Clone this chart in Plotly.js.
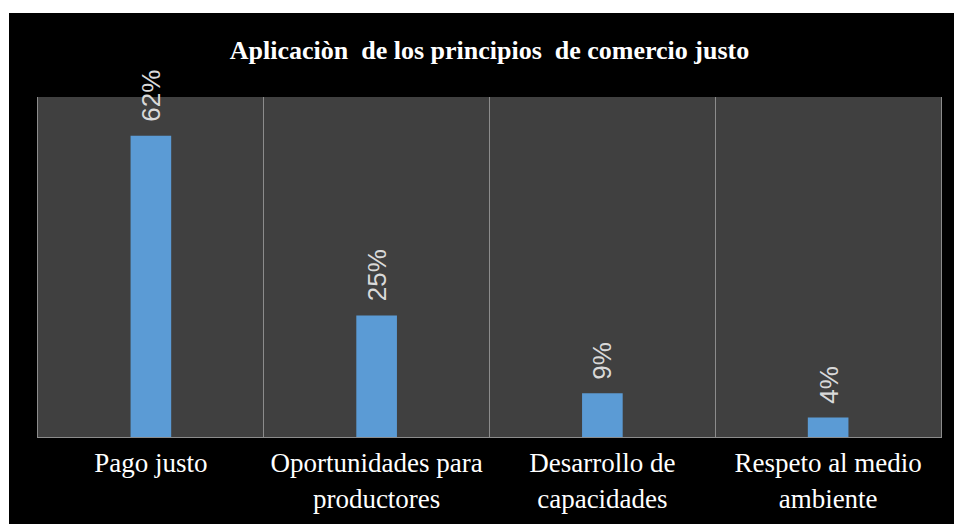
<!DOCTYPE html>
<html>
<head>
<meta charset="utf-8">
<script src="https://cdn.plot.ly/plotly-3.0.1.min.js"></script>
<style>
  html, body { margin: 0; padding: 0; background: #ffffff; }
  #chart { position: absolute; left: 9px; top: 13px; width: 945px; height: 511px; }
</style>
</head>
<body>
<div id="chart"></div>
<script>
const categories = ["Pago justo", "Oportunidades para<br>productores", "Desarrollo de<br>capacidades", "Respeto al medio<br>ambiente"];
const values = [0.62, 0.25, 0.09, 0.04];
const labels = ["62%", "25%", "9%", "4%"];
const titleText = "Aplicaciòn\u00a0 de los principios\u00a0 de comercio justo";

const trace = {
  type: "bar",
  x: categories,
  y: values,
  width: 0.18,
  marker: { color: "#5b9bd5", line: { width: 0 } },
  hoverinfo: "skip"
};

const annotations = categories.map((c, i) => ({
  x: c, y: values[i], xref: "x", yref: "y",
  text: labels[i], showarrow: false, textangle: -90,
  xanchor: "center", yanchor: "bottom", yshift: 12,
  font: { family: "Liberation Sans, Arial, sans-serif", size: 26, color: "#d9d9d9" }
}));

const layout = {
  width: 945, height: 511,
  paper_bgcolor: "#000000",
  plot_bgcolor: "#404040",
  margin: { l: 29, r: 13, t: 84, b: 87 },
  showlegend: false,
  title: {
    text: "<b>" + titleText + "</b>",
    font: { family: "Liberation Serif, Times New Roman, serif", size: 26, color: "#ffffff" },
    x: 0.5, xanchor: "center", xref: "paper",
    y: 1 - 37 / 511, yanchor: "middle", yref: "container"
  },
  xaxis: {
    type: "category",
    tickson: "boundaries",
    showgrid: true, gridcolor: "#8c8c8c", gridwidth: 1,
    showline: true, linecolor: "#8c8c8c", linewidth: 1,
    ticks: "",
    ticklabelstandoff: 2,
    tickfont: { family: "Liberation Serif, Times New Roman, serif", size: 27, color: "#ffffff" },
    fixedrange: true
  },
  yaxis: {
    range: [0, 0.7],
    showgrid: false, zeroline: false,
    showline: true, mirror: true, linecolor: "#8c8c8c", linewidth: 1,
    showticklabels: false, ticks: "",
    fixedrange: true
  },
  annotations: annotations
};

Plotly.newPlot("chart", [trace], layout, { displayModeBar: false, staticPlot: true });
</script>
</body>
</html>
